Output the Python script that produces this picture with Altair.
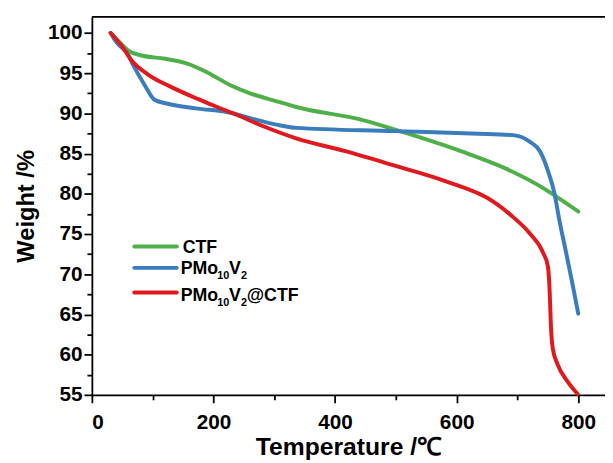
import altair as alt
import pandas as pd

ctf_t = [31, 45, 60, 82, 120, 157, 190, 228, 260, 304, 336, 444, 515, 607, 682, 747, 761, 800]
ctf_w = [100, 98.9, 97.8, 97.2, 96.8, 96.2, 95.1, 93.5, 92.5, 91.5, 90.8, 89.2, 87.6, 85.3, 83.1, 80.5, 79.8, 77.8]

pmo_t = [31, 40, 49, 58, 68, 87, 103, 125, 174, 220, 271, 304, 336, 498, 661, 693, 720, 737, 750, 761, 769, 780, 791, 800]
pmo_w = [100, 98.9, 98.2, 97.5, 96.0, 93.5, 91.7, 91.2, 90.6, 90.2, 89.2, 88.6, 88.2, 87.8, 87.4, 87.3, 86.5, 85.3, 82.9, 80.0, 76.7, 72.7, 68.6, 65.1]

comp_t = [31, 50, 65, 93, 130, 174, 206, 239, 282, 336, 417, 498, 580, 661, 693, 720, 742, 750, 753, 755, 758, 766, 782, 799]
comp_w = [100, 98.3, 96.6, 94.8, 93.3, 91.8, 90.8, 89.8, 88.4, 86.9, 85.3, 83.5, 81.6, 79.0, 77.1, 75.1, 72.7, 71.0, 67.8, 63.7, 60.8, 58.8, 56.7, 55.1]

series = ["CTF", "PMo10V2", "PMo10V2@CTF"]
colors = ["#4fb04a", "#3a7dbd", "#e0191e"]

# legend labels split into normal / subscript pieces
leg_main = [["CTF"], ["PMo", "V"], ["PMo", "V", "@CTF"]]
leg_sub = [[], ["10", "2"], ["10", "2"]]

x_ticks = [0, 100, 200, 300, 400, 500, 600, 700, 800]
y_ticks = [55, 57.5, 60, 62.5, 65, 67.5, 70, 72.5, 75, 77.5, 80, 82.5, 85, 87.5, 90, 92.5, 95, 97.5, 100]

rows = []
for name, ts, ws in zip(series, [ctf_t, pmo_t, comp_t], [ctf_w, pmo_w, comp_w]):
    for i, (t, w) in enumerate(zip(ts, ws)):
        rows.append({"series": name, "T": t, "W": w, "order": i})
df = pd.DataFrame(rows)

W, H = 520, 383
FONT = "Liberation Sans"

xscale = alt.Scale(domain=[0, 844], nice=False, zero=False)
yscale = alt.Scale(domain=[55, 102], nice=False, zero=False)
cscale = alt.Scale(domain=series, range=colors)

x_axis = alt.Axis(
    values=x_ticks, title="Temperature /℃", grid=False,
    labelExpr="datum.value % 200 === 0 ? datum.label : ''",
    tickSize={"condition": {"test": "datum.value % 200 !== 0", "value": 5}, "value": 8},
    tickColor="black", tickWidth=1.8, domainColor="black", domainWidth=1.8,
    labelFont=FONT, labelFontWeight="bold", labelFontSize=21, labelColor="black",
    labelPadding=9, titleFont=FONT, titleFontWeight="bold", titleFontSize=25,
    titleColor="black", titlePadding=2,
)
y_axis = alt.Axis(
    values=y_ticks, title="Weight /%", grid=False,
    labelExpr="datum.value % 5 === 0 ? datum.label : ''",
    tickSize={"condition": {"test": "datum.value % 5 !== 0", "value": 5}, "value": 8},
    tickColor="black", tickWidth=1.8, domainColor="black", domainWidth=1.8,
    labelFont=FONT, labelFontWeight="bold", labelFontSize=21, labelColor="black",
    labelPadding=2, titleFont=FONT, titleFontWeight="bold", titleFontSize=24,
    titleColor="black", titlePadding=9,
)

lines = alt.Chart(df).mark_line(strokeWidth=4, strokeCap="round", interpolate="monotone").encode(
    x=alt.X("T:Q", scale=xscale, axis=x_axis),
    y=alt.Y("W:Q", scale=yscale, axis=y_axis),
    color=alt.Color("series:N", scale=cscale, legend=None),
    detail="series:N",
    order="order:Q",
)

top = alt.Chart(pd.DataFrame({"a": [0]})).mark_rule(color="black", strokeWidth=1.8).encode(
    x=alt.value(0), x2=alt.value(W), y=alt.value(0)
)

# legend layout (pixels inside plot area)
leg_line_y = [232.7, 254.3, 279.3]
leg_base_y = [239.5, 261, 287.7]
main_x = [[92], [90, 139], [90, 139, 157]]
sub_x = [[], [127, 151], [127, 151]]

leg_df = pd.DataFrame({"series": series, "py": leg_line_y})
leg_lines = alt.Chart(leg_df).mark_rule(strokeWidth=4, strokeCap="round").encode(
    x=alt.value(43), x2=alt.value(86),
    y=alt.Y("py:Q", scale=None),
    color=alt.Color("series:N", scale=cscale, legend=None),
)

main_rows, sub_rows = [], []
for k in range(3):
    for txt, px in zip(leg_main[k], main_x[k]):
        main_rows.append({"t": txt, "px": px, "py": leg_base_y[k]})
    for txt, px in zip(leg_sub[k], sub_x[k]):
        sub_rows.append({"t": txt, "px": px, "py": leg_base_y[k] + 5})

leg_main_text = alt.Chart(pd.DataFrame(main_rows)).mark_text(
    align="left", baseline="alphabetic", font=FONT, fontWeight="bold", fontSize=18, color="black"
).encode(x=alt.X("px:Q", scale=None), y=alt.Y("py:Q", scale=None), text="t:N")

leg_sub_text = alt.Chart(pd.DataFrame(sub_rows)).mark_text(
    align="left", baseline="alphabetic", font=FONT, fontWeight="bold", fontSize=11, color="black"
).encode(x=alt.X("px:Q", scale=None), y=alt.Y("py:Q", scale=None), text="t:N")

chart = alt.layer(lines, top, leg_lines, leg_main_text, leg_sub_text).properties(
    width=W, height=H,
    autosize=alt.AutoSizeParams(type="none"),
    padding={"left": 85, "top": 6, "right": 0, "bottom": 64},
).configure_view(stroke=None).configure(background="white")

chart.save("out.html", embed_options={"renderer": "svg", "actions": False})
